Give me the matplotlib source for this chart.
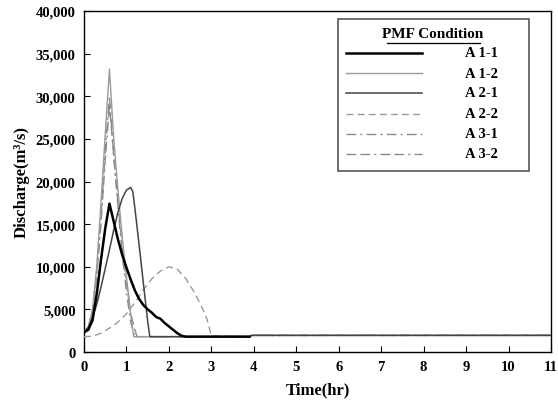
import matplotlib
matplotlib.use("Agg")
import matplotlib.pyplot as plt
from matplotlib.lines import Line2D
from matplotlib.patches import Rectangle
from matplotlib.ticker import FuncFormatter, MultipleLocator

plt.rcParams['font.family'] = ['Liberation Serif', 'DejaVu Serif']
plt.rcParams['font.weight'] = 'bold'

# Shared low-flow tail after the flood recedes (hr, m3/s)
tail_t = [3.9, 3.95, 11.0]
tail_q = [1800, 1950, 1950]

t_a11 = [0, 0.1, 0.2, 0.3, 0.4, 0.5, 0.6, 0.7, 0.8, 0.9, 1.0, 1.1, 1.2, 1.3, 1.4,
         1.5, 1.6, 1.7, 1.8, 1.9, 2.0, 2.1, 2.2, 2.3, 2.4, 3.9]
q_a11 = [2300, 2600, 3700, 6800, 10800, 14500, 17400, 15300, 13200, 11400, 9900,
         8500, 7200, 6200, 5500, 5000, 4600, 4100, 3900, 3400, 3000, 2600, 2200,
         1900, 1800, 1800]

t_a12 = [0, 0.1, 0.2, 0.3, 0.4, 0.5, 0.6, 0.7, 0.8, 0.9, 1.0, 1.1, 1.17]
q_a12 = [2300, 2900, 5000, 10000, 17500, 25500, 33200, 25000, 19000, 13500,
         8800, 4500, 1800]

t_a21 = [0, 0.1, 0.2, 0.3, 0.4, 0.5, 0.6, 0.7, 0.8, 0.9, 1.0, 1.1, 1.15, 1.2,
         1.3, 1.4, 1.5, 1.55]
q_a21 = [2300, 2900, 4000, 5600, 7600, 9800, 12000, 14300, 16400, 18000, 19000,
         19300, 18800, 16800, 12500, 8000, 3600, 1800]

t_a22 = [0, 0.2, 0.4, 0.6, 0.8, 1.0, 1.2, 1.4, 1.6, 1.8, 2.0, 2.2, 2.4, 2.6,
         2.8, 2.9, 3.0]
q_a22 = [1800, 1850, 2200, 2800, 3500, 4500, 5800, 7300, 8600, 9500, 10000,
         9700, 8600, 7000, 5000, 3800, 1900]

t_a31 = [0, 0.1, 0.2, 0.3, 0.4, 0.5, 0.6, 0.7, 0.8, 0.9, 1.0, 1.1, 1.2]
q_a31 = [2300, 2900, 5000, 9500, 16000, 23500, 30000, 23000, 17000, 11500,
         7000, 3500, 1800]

t_a32 = [0, 0.1, 0.2, 0.3, 0.4, 0.5, 0.6, 0.7, 0.8, 0.9, 1.0, 1.1, 1.2, 1.25]
q_a32 = [2300, 2800, 4600, 8800, 15000, 22500, 29000, 23000, 17500, 12500,
         8000, 4500, 2600, 1800]

labels = ["A 1-1", "A 1-2", "A 2-1", "A 2-2", "A 3-1", "A 3-2"]
x_ticks = list(range(0, 12))

styles = [
    dict(color='black', lw=1.8, ls='-'),
    dict(color='#9a9a9a', lw=1.0, ls='-'),
    dict(color='#444444', lw=1.1, ls='-'),
    dict(color='#9a9a9a', lw=1.0, ls=(0, (5, 3))),
    dict(color='#8a8a8a', lw=1.0, ls=(0, (7, 3, 1.5, 3))),
    dict(color='#8a8a8a', lw=1.0, ls=(0, (7, 3, 7, 3, 1.5, 3))),
]

series = [(t_a11, q_a11), (t_a12, q_a12), (t_a21, q_a21),
          (t_a22, q_a22), (t_a31, q_a31), (t_a32, q_a32)]

fig = plt.figure(figsize=(5.58, 4.10), dpi=100)
ax = fig.add_axes([84 / 558, 1 - 353 / 410, 467 / 558, 341 / 410])

order = [5, 4, 3, 1, 2, 0]
for i in order:
    t, q = series[i]
    if i == 0:
        tt, qq = t, q
    else:
        tt = list(t) + tail_t
        qq = list(q) + tail_q
    ax.plot(tt, qq, zorder=3 + (i == 0) + 0.5 * (i == 2), **styles[i])

ax.set_xlim(0, 11)
ax.set_ylim(0, 40000)
ax.set_xticks(x_ticks)
ax.yaxis.set_major_locator(MultipleLocator(5000))
ax.yaxis.set_major_formatter(FuncFormatter(lambda v, p: f"{int(v):,}"))
ax.tick_params(direction='in', length=4, width=0.8, labelsize=10.5, pad=6)
for lab in ax.get_xticklabels() + ax.get_yticklabels():
    lab.set_fontweight('bold')
for s in ax.spines.values():
    s.set_linewidth(1.0)

ax.set_xlabel("Time(hr)", fontsize=12, fontweight='bold', labelpad=6)
ax.set_ylabel("Discharge(m³/s)", fontsize=12, fontweight='bold', labelpad=4)

# Legend box drawn in axes coordinates
tr = ax.transAxes
ax.add_patch(Rectangle((0.544, 0.531), 0.409, 0.446, transform=tr,
                       facecolor='white', edgecolor='#555555', lw=1.2, zorder=10))
ax.text(0.747, 0.933, "PMF Condition", transform=tr, ha='center', va='center',
        fontsize=11, fontweight='bold', zorder=11)
ax.add_line(Line2D([0.648, 0.848], [0.906, 0.906], transform=tr,
                   color='black', lw=0.9, zorder=11))
rows_y = [0.877, 0.818, 0.760, 0.698, 0.640, 0.582]
for lab, y, st in zip(labels, rows_y, styles):
    ax.add_line(Line2D([0.561, 0.724], [y, y], transform=tr, zorder=11, **st))
    ax.text(0.816, y, lab, transform=tr, ha='left', va='center',
            fontsize=10.5, fontweight='bold', zorder=11)

fig.savefig("out.png", dpi=100)
